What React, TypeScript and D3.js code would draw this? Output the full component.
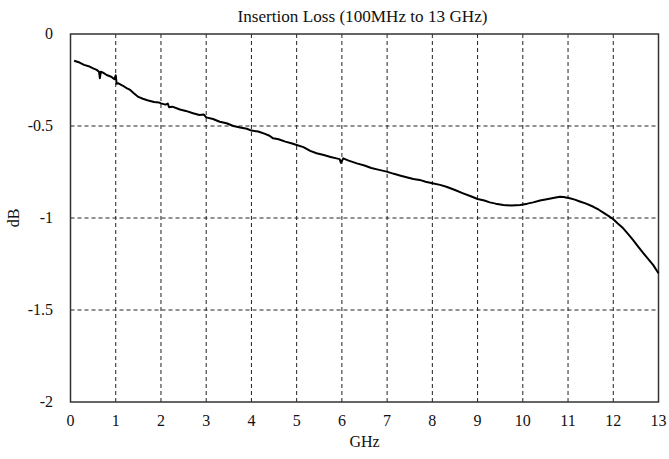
import React from "react";
import * as d3 from "d3";

const freqGHz = [0.08,0.2,0.3,0.4,0.5,0.58,0.63,0.65,0.67,0.72,0.8,0.9,0.97,1.0,1.02,1.06,1.15,1.25,1.32,1.4,1.5,1.6,1.7,1.76,1.85,1.95,2.0,2.1,2.15,2.18,2.25,2.42,2.55,2.71,2.85,2.95,3.0,3.15,3.3,3.45,3.6,3.75,3.9,4.0,4.15,4.3,4.4,4.48,4.6,4.75,4.9,5.0,5.15,5.3,5.44,5.6,5.75,5.88,5.95,5.98,6.03,6.15,6.33,6.5,6.65,6.8,6.99,7.15,7.3,7.45,7.58,7.72,7.85,8.0,8.17,8.31,8.5,8.68,8.85,9.0,9.15,9.27,9.4,9.57,9.75,9.94,10.1,10.23,10.38,10.53,10.7,10.82,10.9,11.04,11.15,11.26,11.4,11.56,11.68,11.78,11.9,12.0,12.1,12.22,12.33,12.44,12.55,12.66,12.77,12.88,13.0];
const lossDB = [-0.145,-0.155,-0.168,-0.175,-0.187,-0.195,-0.205,-0.24,-0.205,-0.21,-0.223,-0.232,-0.245,-0.225,-0.27,-0.268,-0.28,-0.295,-0.304,-0.322,-0.342,-0.352,-0.36,-0.364,-0.37,-0.372,-0.377,-0.384,-0.378,-0.398,-0.395,-0.41,-0.418,-0.431,-0.44,-0.438,-0.453,-0.462,-0.477,-0.485,-0.5,-0.508,-0.515,-0.525,-0.53,-0.543,-0.553,-0.567,-0.572,-0.585,-0.595,-0.603,-0.615,-0.635,-0.648,-0.658,-0.668,-0.676,-0.68,-0.7,-0.676,-0.688,-0.703,-0.715,-0.728,-0.737,-0.748,-0.76,-0.77,-0.78,-0.788,-0.793,-0.803,-0.811,-0.82,-0.83,-0.848,-0.866,-0.882,-0.897,-0.905,-0.915,-0.922,-0.929,-0.932,-0.929,-0.922,-0.915,-0.905,-0.898,-0.89,-0.884,-0.886,-0.893,-0.9,-0.91,-0.922,-0.939,-0.955,-0.971,-0.99,-1.007,-1.03,-1.056,-1.088,-1.12,-1.155,-1.19,-1.222,-1.255,-1.3];
const xTicks = [0,1,2,3,4,5,6,7,8,9,10,11,12,13];
const yTicks = [0,-0.5,-1,-1.5,-2];
const title = "Insertion Loss (100MHz to 13 GHz)";
const xLabel = "GHz";
const yLabel = "dB";

export default function App() {
  const W = 669, H = 459;
  const left = 70.5, right = 658.5, top = 34, bottom = 402;
  const x = d3.scaleLinear().domain([0, 13]).range([left, right]);
  const y = d3.scaleLinear().domain([-2, 0]).range([bottom, top]);
  const pts = freqGHz.map((f, i) => [f, lossDB[i]] as [number, number]);
  const line = d3.line<[number, number]>().x(d => x(d[0])).y(d => y(d[1]));
  const font = "'Liberation Serif', 'Times New Roman', serif";
  return (
    <svg width={W} height={H} style={{ position: "absolute", left: 0, top: 0, background: "#fff" }} fontFamily={font}>
      <rect x={0} y={0} width={W} height={H} fill="#fff" />
      {xTicks.slice(1, -1).map(t => (
        <line key={"gx" + t} x1={x(t)} x2={x(t)} y1={top} y2={bottom} stroke="#222" strokeWidth={1} strokeDasharray="4,3" />
      ))}
      {yTicks.slice(1, -1).map(t => (
        <line key={"gy" + t} x1={left} x2={right} y1={y(t)} y2={y(t)} stroke="#222" strokeWidth={1} strokeDasharray="4,3" />
      ))}
      <rect x={left} y={top} width={right - left} height={bottom - top} fill="none" stroke="#333" strokeWidth={1.5} />
      <path d={line(pts) || ""} fill="none" stroke="#000" strokeWidth={2} strokeLinejoin="round" />
      {xTicks.map(t => (
        <text key={"tx" + t} x={x(t)} y={426} textAnchor="middle" fontSize={16} fill="#111">{t}</text>
      ))}
      {yTicks.map(t => (
        <text key={"ty" + t} x={53} y={y(t) + 5} textAnchor="end" fontSize={16} fill="#111">{t}</text>
      ))}
      <text x={(left + right) / 2 - 2} y={22} textAnchor="middle" fontSize={17} fill="#111" textLength={250} lengthAdjust="spacingAndGlyphs">{title}</text>
      <text x={(left + right) / 2} y={447} textAnchor="middle" fontSize={16} fill="#111">{xLabel}</text>
      <text transform={`translate(19,${(top + bottom) / 2}) rotate(-90)`} textAnchor="middle" fontSize={16} fill="#111">{yLabel}</text>
    </svg>
  );
}
